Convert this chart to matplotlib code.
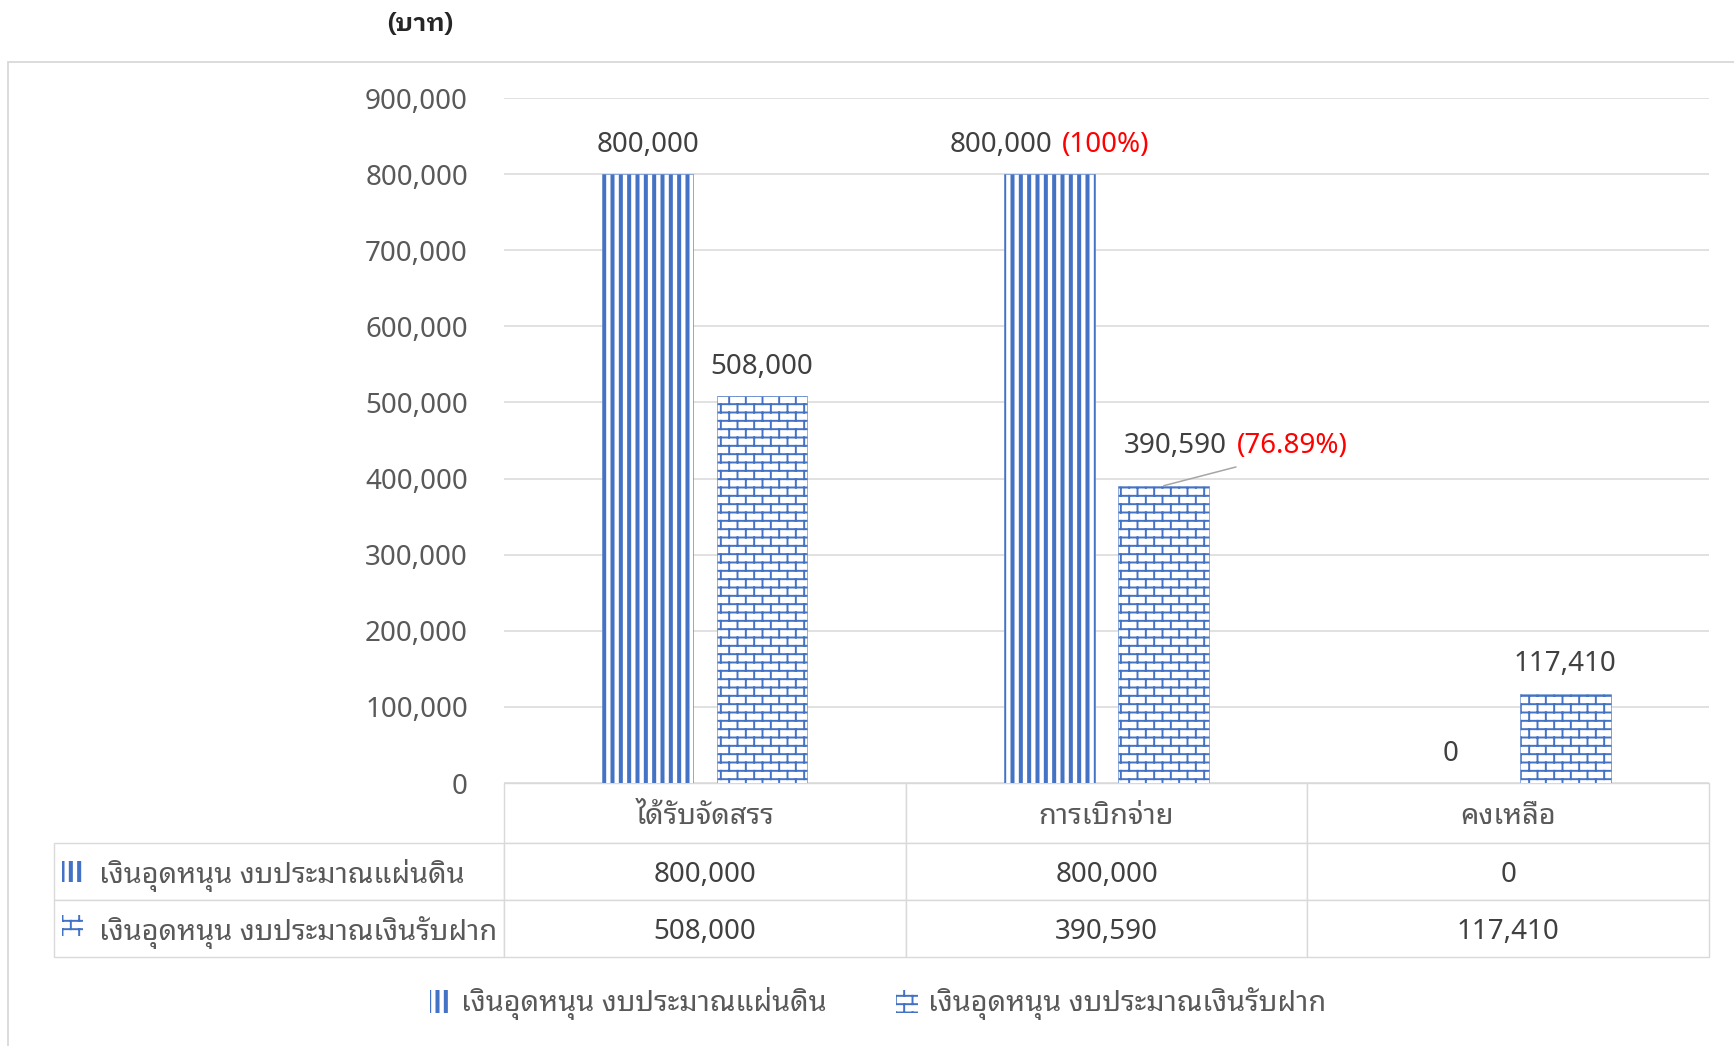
import numpy as np
import matplotlib
matplotlib.use("Agg")
import matplotlib.pyplot as plt
import matplotlib.hatch as mhatch
from matplotlib.path import Path
from matplotlib.patches import Rectangle
from matplotlib.table import Table
from matplotlib.offsetbox import TextArea, HPacker, AnnotationBbox
from matplotlib.ticker import FuncFormatter

# data (baht)
categories = ['ได้รับจัดสรร', 'การเบิกจ่าย', 'คงเหลือ']
series_names = ['เงินอุดหนุน งบประมาณแผ่นดิน', 'เงินอุดหนุน งบประมาณเงินรับฝาก']
land_budget = [800000, 800000, 0]
deposit_budget = [508000, 390590, 117410]
disbursed_pct = ['(100%)', '(76.89%)']   # shown next to the "การเบิกจ่าย" labels
y_ticks = list(range(0, 900001, 100000))
unit_label = '(บาท)'

BLUE = '#4472C4'
GRID = '#D9D9D9'
TXT = '#404040'
TICK = '#595959'
HATCHES = [('||', 2.9), ('-', 1.4)]   # '-' is redrawn as bricks below
NUM_FS = 20
THAI_FS = 20.8

plt.rcParams['font.family'] = ['Noto Sans Thai Looped', 'DejaVu Sans']


class BrickHatch(mhatch.HatchPatternBase):
    """brick pattern, used in place of the '-' hatch"""

    def __init__(self, hatch, density):
        self.rows = int(hatch.count('-') * density * 2)
        self.cols = self.rows // 2
        if self.rows:
            self.num_vertices = 2 * (self.rows + self.rows * self.cols + self.cols)
        else:
            self.num_vertices = 0

    def set_vertices_and_codes(self, vertices, codes):
        n = self.rows
        step = 1.0 / n
        ys = (np.arange(n) + 0.5) * step
        segs = []
        for y in ys:
            segs.append(((0.0, y), (1.0, y)))
        for i, y in enumerate(ys):
            shift = 0.25 + 0.5 * (i % 2)
            for j in range(self.cols):
                x = (j + shift) / self.cols
                if i == n - 1:
                    segs.append(((x, y), (x, 1.0)))
                else:
                    segs.append(((x, y), (x, y + step)))
        # wrap-around pieces of the last row
        shift = 0.25 + 0.5 * ((n - 1) % 2)
        for j in range(self.cols):
            x = (j + shift) / self.cols
            segs.append(((x, 0.0), (x, ys[0])))
        segs = np.array(segs)
        vertices[0::2] = segs[:, 0]
        vertices[1::2] = segs[:, 1]
        codes[0::2] = Path.MOVETO
        codes[1::2] = Path.LINETO


mhatch._hatch_types[mhatch._hatch_types.index(mhatch.HorizontalHatch)] = BrickHatch

W, H = 1734, 1046
fig = plt.figure(figsize=(W / 100, H / 100), dpi=100)
ax = fig.add_axes([504 / W, 1 - 783 / H, 1205 / W, 685 / H])

x = np.arange(len(categories))
bw = 0.226
off = 0.1425
b1 = ax.bar(x - off, land_budget, bw, color='white', edgecolor=BLUE, linewidth=0.4,
            hatch=HATCHES[0][0], hatch_linewidth=HATCHES[0][1], label=series_names[0])
b2 = ax.bar(x + off, deposit_budget, bw, color='white', edgecolor=BLUE, linewidth=0.4,
            hatch=HATCHES[1][0], hatch_linewidth=HATCHES[1][1], label=series_names[1])

ax.set_xlim(-0.5, len(categories) - 0.5)
ax.set_ylim(0, y_ticks[-1])
ax.set_yticks(y_ticks)
ax.yaxis.set_major_formatter(FuncFormatter(lambda v, p: f'{v:,.0f}'))
ax.tick_params(axis='y', length=0, pad=26, labelsize=NUM_FS, labelcolor=TICK)
ax.set_xticks([])
ax.yaxis.grid(True, color=GRID, linewidth=1.1)
ax.set_axisbelow(True)
for s in ax.spines.values():
    s.set_visible(False)


# value labels
def value_label(xpos, val, pct=None, dx=0, dy=11):
    parts = [TextArea(f'{val:,}', textprops=dict(color=TXT, fontsize=NUM_FS))]
    if pct is not None:
        parts.append(TextArea(pct, textprops=dict(color='#FF0000', fontsize=NUM_FS)))
    box = HPacker(children=parts, align='baseline', pad=0, sep=7)
    ab = AnnotationBbox(box, (xpos, val), xybox=(dx, dy), xycoords='data',
                        boxcoords='offset points', box_alignment=(0.5, 0),
                        frameon=False, pad=0, annotation_clip=False)
    ax.add_artist(ab)


for i in range(len(categories)):
    value_label(x[i] - off, land_budget[i], disbursed_pct[0] if i == 1 else None)
    if i == 1:
        value_label(x[i] + off, deposit_budget[i], disbursed_pct[1], dx=52, dy=18.7)
        ax.annotate('', xy=(x[i] + off, deposit_budget[i]), xytext=(52, 13.5),
                    textcoords='offset points',
                    arrowprops=dict(arrowstyle='-', color='#A6A6A6', lw=1.1,
                                    shrinkA=0, shrinkB=0))
    else:
        value_label(x[i] + off, deposit_budget[i])

# data table under the plot
lab_w = 450 / 1205
col_w = 1 / 3
tbl = Table(ax, bbox=[-lab_w, -174 / 685, 1 + lab_w, 174 / 685])
tbl.auto_set_font_size(False)
tbl.set_fontsize(NUM_FS)
cell_kw = dict(edgecolor=GRID, facecolor='white')
thai_cells = []
for c, cat in enumerate(categories):
    cell = tbl.add_cell(0, c + 1, col_w, 60, text=cat, loc='center', **cell_kw)
    cell.get_text().set_color(TICK)
    thai_cells.append(cell)
for r, (name, vals) in enumerate(zip(series_names, [land_budget, deposit_budget]), start=1):
    cell = tbl.add_cell(r, 0, lab_w, 57, text=name, loc='left', **cell_kw)
    cell.get_text().set_color(TICK)
    thai_cells.append(cell)
    for c, v in enumerate(vals):
        cell = tbl.add_cell(r, c + 1, col_w, 57, text=f'{v:,}', loc='center', **cell_kw)
        cell.get_text().set_color(TXT)
for cell in tbl.get_celld().values():
    cell.set_linewidth(1.0)
    cell.get_text().set_va('center_baseline')
    cell.get_text().set_fontsize(NUM_FS)
for cell in thai_cells:
    cell.get_text().set_fontsize(THAI_FS)
ax.add_table(tbl)

# legend keys inside the table's row labels
for y0, (hatch, hlw) in zip([861, 915], HATCHES):
    fig.add_artist(Rectangle((62 / W, 1 - (y0 + 21) / H), 21 / W, 21 / H,
                             transform=fig.transFigure, facecolor='white',
                             edgecolor=BLUE, linewidth=0, hatch=hatch,
                             hatch_linewidth=hlw))

leg = fig.legend(handles=[b1, b2], loc='center', bbox_to_anchor=(878 / W, 1 - 1004 / H),
                 ncol=2, frameon=False, fontsize=THAI_FS, handlelength=0.75,
                 handleheight=0.8, handletextpad=0.35, columnspacing=2.4)
for t in leg.get_texts():
    t.set_color(TICK)
for h, (hatch, hlw) in zip(leg.legend_handles, HATCHES):
    h.set_linewidth(0)
    h.set_hatch_linewidth(hlw)

# outer frame and unit label
fig.add_artist(Rectangle((8 / W, -1), 2, 1 - 62 / H + 1, transform=fig.transFigure,
                         fill=False, edgecolor=GRID, linewidth=1.3))
fig.text(420 / W, 1 - 24 / H, unit_label, ha='center', va='center', fontsize=18,
         fontweight='bold', color='#262626',
         family=['IBM Plex Sans Thai Looped', 'Noto Sans Thai Looped', 'DejaVu Sans'])

fig.savefig('out.png', dpi=100)
